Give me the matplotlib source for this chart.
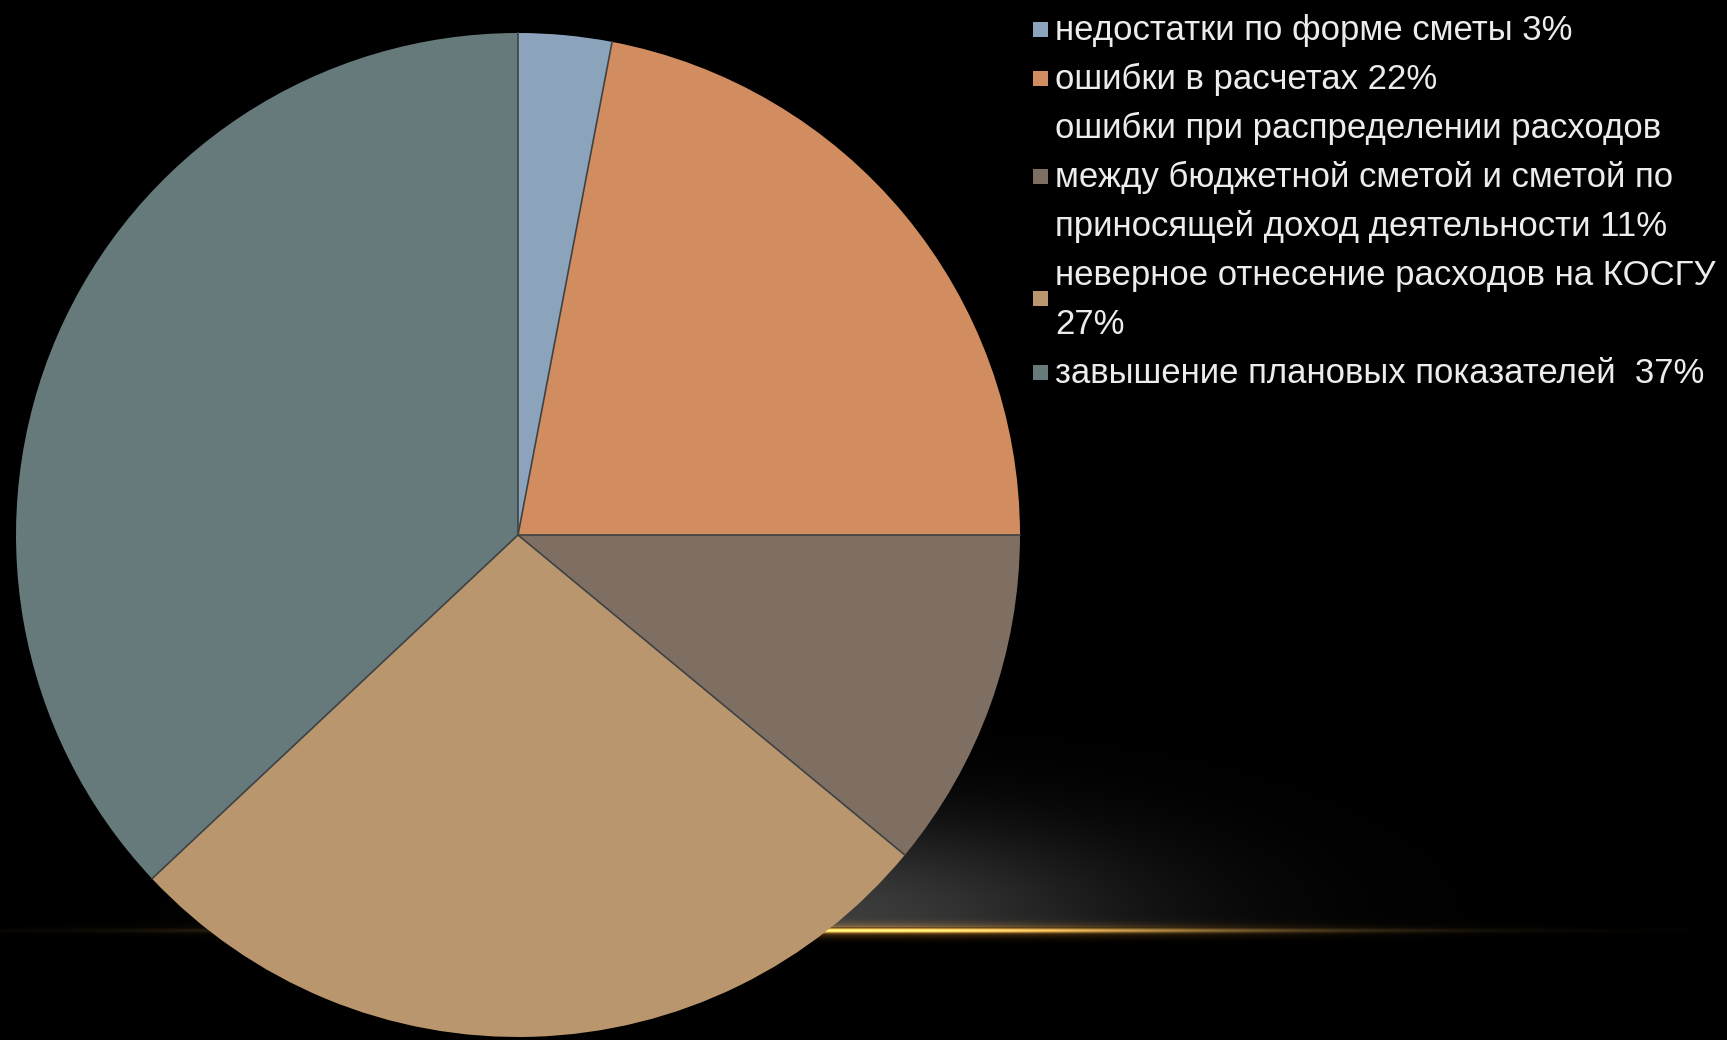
import numpy as np
import matplotlib
matplotlib.use("Agg")
import matplotlib.pyplot as plt
from matplotlib.patches import Rectangle

# ---- data ----
labels = [
    "недостатки по форме сметы 3%",
    "ошибки в расчетах 22%",
    "ошибки при распределении расходов\nмежду бюджетной сметой и сметой по\nприносящей доход деятельности 11%",
    "неверное отнесение расходов на КОСГУ\n27%",
    "завышение плановых показателей  37%",
]
values = [3, 22, 11, 27, 37]
colors = ["#8ba4bb", "#d18d5f", "#7f6e62", "#b9966d", "#66797b"]

W, H = 1727, 1040
fig = plt.figure(figsize=(W / 100, H / 100), dpi=100)
fig.patch.set_facecolor("black")
ax = fig.add_axes([0, 0, 1, 1])
ax.set_facecolor("black")

# ---- background glow + golden line ----
yy, xx = np.mgrid[0:H, 0:W].astype(float)
img = np.zeros((H, W, 3))
glow = 0.24 * np.exp(-((xx - 810) / 320) ** 2 - ((yy - 915) / 95) ** 2)
glow[yy > 926] = 0
img += glow[..., None]
sig = np.where(xx < 850, 430.0, 380.0)
amp = np.exp(-((xx - 850) / sig) ** 2)
core = np.exp(-((yy - 930) / 2.2) ** 2)
halo = 0.45 * np.exp(-((yy - 930) / 7.0) ** 2)
gold_core = np.array([1.0, 0.82, 0.45])
gold_halo = np.array([0.75, 0.48, 0.12])
img += (amp * core)[..., None] * gold_core + (amp * halo)[..., None] * gold_halo
img = np.clip(img, 0, 1)
ax.imshow(img, extent=[0, W, 0, H], origin="upper", zorder=0, aspect="auto")

# ---- pie ----
cx, cy, r = 518, 1040 - 535, 502
wedges, _ = ax.pie(values, colors=colors, startangle=90, counterclock=False,
                   center=(cx, cy), radius=r, wedgeprops=dict(linewidth=0))
for w in wedges:
    w.set_zorder(2)
total = float(sum(values))
cum = np.concatenate([[0], np.cumsum(values)])
for c in cum[:-1]:
    th = np.deg2rad(90 - 360 * c / total)
    ax.plot([cx, cx + r * np.cos(th)], [cy, cy + r * np.sin(th)],
            color="#3e4244", lw=1.2, zorder=3)

ax.set_xlim(0, W)
ax.set_ylim(0, H)
ax.set_axis_off()

# ---- legend ----
font = ["Liberation Sans Narrow", "Liberation Sans", "DejaVu Sans"]
base0, step = 40, 49
line = 0
for lab, col in zip(labels, colors):
    parts = lab.split("\n")
    n = len(parts)
    for j, p in enumerate(parts):
        ax.text(1055, H - (base0 + (line + j) * step), p, color="#ececec",
                fontsize=25, family=font, va="baseline", ha="left", zorder=5)
    mid = base0 + (line + (n - 1) / 2) * step - 11
    ax.add_patch(Rectangle((1033, H - mid - 7.5), 15, 15, facecolor=col,
                           edgecolor="none", zorder=5))
    line += n

fig.savefig("out.png", dpi=100, facecolor="black")
